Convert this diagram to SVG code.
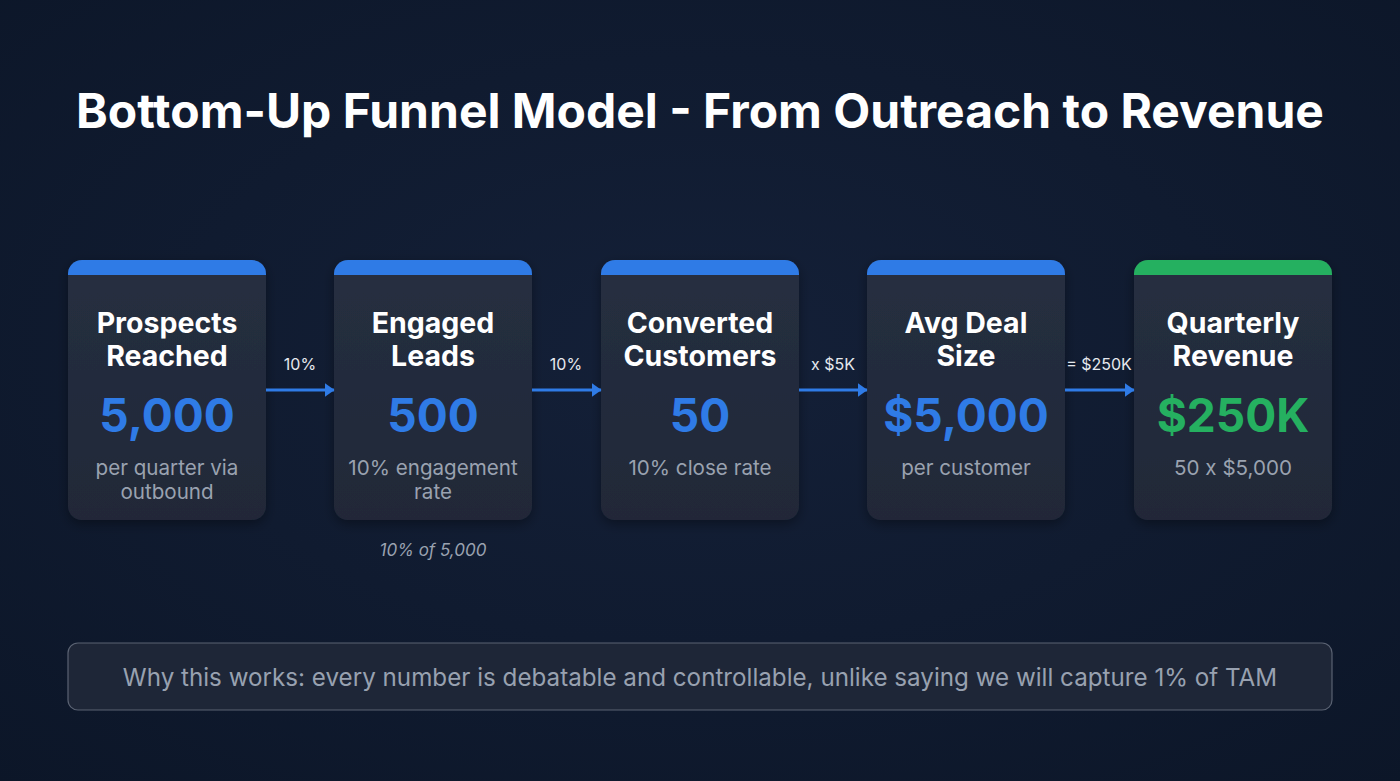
<svg xmlns="http://www.w3.org/2000/svg" width="1400" height="781" viewBox="0 0 1400 781">
<defs>
<radialGradient id="bg" cx="50%" cy="45%" r="75%">
<stop offset="0" stop-color="#142038"/>
<stop offset="1" stop-color="#0c1628"/>
</radialGradient>
<linearGradient id="cardg" x1="0" y1="0" x2="0" y2="1">
<stop offset="0" stop-color="#262f40"/>
<stop offset="1" stop-color="#202838"/>
</linearGradient>
<clipPath id="c1"><rect x="68" y="260" width="198" height="260" rx="14"/></clipPath>
<clipPath id="c2"><rect x="334" y="260" width="198" height="260" rx="14"/></clipPath>
<clipPath id="c3"><rect x="601" y="260" width="198" height="260" rx="14"/></clipPath>
<clipPath id="c4"><rect x="867" y="260" width="198" height="260" rx="14"/></clipPath>
<clipPath id="c5"><rect x="1134" y="260" width="198" height="260" rx="14"/></clipPath>
<marker id="arr" markerWidth="10" markerHeight="14" refX="9.5" refY="7" orient="auto" markerUnits="userSpaceOnUse">
<path d="M0,0 L10,7 L0,14 Z" fill="#2f7be6"/>
</marker>
<filter id="sh" x="-20%" y="-20%" width="140%" height="140%">
<feDropShadow dx="0" dy="4" stdDeviation="6" flood-color="#000" flood-opacity="0.35"/>
</filter>
</defs>
<style>
text{font-family:Inter,"Liberation Sans",sans-serif;}
.title{font-size:48px;font-weight:700;fill:#ffffff;}
.card{fill:url(#cardg);}
.bar{fill:#2f7be6;}
.bar.g{fill:#25b060;}
.ct{font-size:28.5px;font-weight:700;fill:#ffffff;text-anchor:middle;}
.num{font-size:46px;font-weight:700;fill:#2f7be6;text-anchor:middle;}
.num.g{fill:#25b060;}
.sub{font-size:20.6px;fill:#9aa2b0;text-anchor:middle;}
.lbl{font-size:16px;fill:#e6e9ee;text-anchor:middle;}
.note{font-size:17px;font-style:italic;fill:#9aa2b0;text-anchor:middle;}
.conn{stroke:#2f7be6;stroke-width:3;fill:none;}
.foot{font-size:24.2px;fill:#98a1b0;text-anchor:middle;}
</style>
<rect width="1400" height="781" fill="url(#bg)"/>
<text class="title" x="700" y="128" text-anchor="middle">Bottom-Up Funnel Model - From Outreach to Revenue</text>

<g id="node-prospects">
<rect class="card" x="68" y="260" width="198" height="260" rx="14" filter="url(#sh)"/>
<rect class="bar" x="68" y="260" width="198" height="15" clip-path="url(#c1)"/>
<text class="ct" x="167" y="333">Prospects</text>
<text class="ct" x="167" y="366">Reached</text>
<text class="num" x="167" y="432">5,000</text>
<text class="sub" x="167" y="475">per quarter via</text>
<text class="sub" x="167" y="499">outbound</text>
</g>

<g id="node-leads">
<rect class="card" x="334" y="260" width="198" height="260" rx="14" filter="url(#sh)"/>
<rect class="bar" x="334" y="260" width="198" height="15" clip-path="url(#c2)"/>
<text class="ct" x="433" y="333">Engaged</text>
<text class="ct" x="433" y="366">Leads</text>
<text class="num" x="433" y="432">500</text>
<text class="sub" x="433" y="475">10% engagement</text>
<text class="sub" x="433" y="499">rate</text>
</g>
<text class="note" x="433" y="556">10% of 5,000</text>

<g id="node-customers">
<rect class="card" x="601" y="260" width="198" height="260" rx="14" filter="url(#sh)"/>
<rect class="bar" x="601" y="260" width="198" height="15" clip-path="url(#c3)"/>
<text class="ct" x="700" y="333">Converted</text>
<text class="ct" x="700" y="366">Customers</text>
<text class="num" x="700" y="432">50</text>
<text class="sub" x="700" y="475">10% close rate</text>
</g>

<g id="node-deal">
<rect class="card" x="867" y="260" width="198" height="260" rx="14" filter="url(#sh)"/>
<rect class="bar" x="867" y="260" width="198" height="15" clip-path="url(#c4)"/>
<text class="ct" x="966" y="333">Avg Deal</text>
<text class="ct" x="966" y="366">Size</text>
<text class="num" x="966" y="432">$5,000</text>
<text class="sub" x="966" y="475">per customer</text>
</g>

<g id="node-revenue">
<rect class="card" x="1134" y="260" width="198" height="260" rx="14" filter="url(#sh)"/>
<rect class="bar g" x="1134" y="260" width="198" height="15" clip-path="url(#c5)"/>
<text class="ct" x="1233" y="333">Quarterly</text>
<text class="ct" x="1233" y="366">Revenue</text>
<text class="num g" x="1233" y="432">$250K</text>
<text class="sub" x="1233" y="475">50 x $5,000</text>
</g>

<g id="connectors">
<line class="conn" x1="266" y1="390" x2="334" y2="390" marker-end="url(#arr)"/>
<line class="conn" x1="532" y1="390" x2="601" y2="390" marker-end="url(#arr)"/>
<line class="conn" x1="799" y1="390" x2="867" y2="390" marker-end="url(#arr)"/>
<line class="conn" x1="1065" y1="390" x2="1134" y2="390" marker-end="url(#arr)"/>
<text class="lbl" x="300" y="370">10%</text>
<text class="lbl" x="566" y="370">10%</text>
<text class="lbl" x="833" y="370">x $5K</text>
<text class="lbl" x="1099" y="370">= $250K</text>
</g>

<g id="footer">
<rect x="68" y="643" width="1264" height="67" rx="10" fill="#1e2637" stroke="#5a6272" stroke-width="1.2"/>
<text class="foot" x="700" y="686">Why this works: every number is debatable and controllable, unlike saying we will capture 1% of TAM</text>
</g>
</svg>
